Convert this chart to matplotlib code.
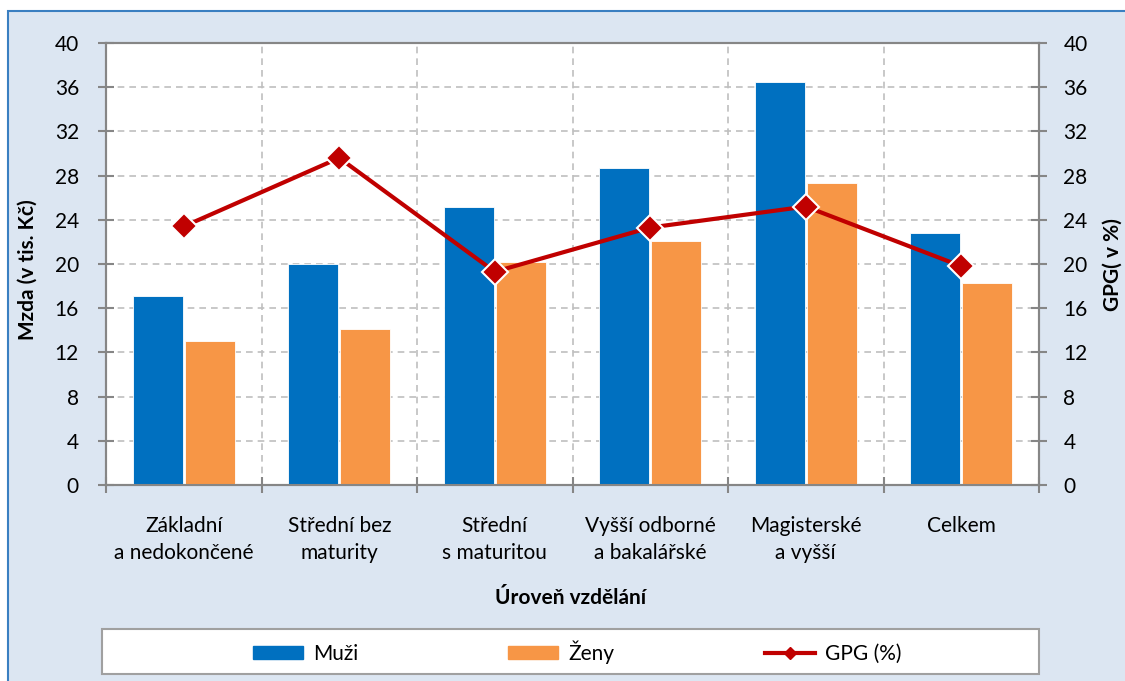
import matplotlib.pyplot as plt
from matplotlib.patches import Rectangle
from matplotlib.lines import Line2D
import numpy as np

plt.rcParams["font.family"] = ["Lato", "DejaVu Sans"]

categories = [
    "Základní\na nedokončené",
    "Střední bez\nmaturity",
    "Střední\ns maturitou",
    "Vyšší odborné\na bakalářské",
    "Magisterské\na vyšší",
    "Celkem",
]
muzi = [17.1, 20.0, 25.2, 28.7, 36.5, 22.8]
zeny = [13.0, 14.1, 20.2, 22.1, 27.3, 18.3]
gpg = [23.4, 29.6, 19.3, 23.3, 25.2, 19.8]
yticks = list(range(0, 41, 4))

BLUE = "#0070C0"
ORANGE = "#F79646"
RED = "#C00000"
GRAY = "#868686"
GRID = "#BFBFBF"
BG = "#DCE6F2"

W, H = 1125, 681
fig = plt.figure(figsize=(W / 100, H / 100), dpi=100, facecolor="white")

# light blue panel with blue frame
fig.patches.append(Rectangle((8 / W, -0.05), 1.2, 1 - 11 / H + 0.05,
                             transform=fig.transFigure, facecolor=BG,
                             edgecolor="#3A7FC1", linewidth=1.5, zorder=-5))

ax = fig.add_axes([106 / W, 1 - 485 / H, (1039 - 106) / W, (485 - 43) / H])
ax.set_facecolor("white")
x = np.arange(len(categories))
w = 0.32
ax.bar(x - 0.167, muzi, w, color=BLUE, edgecolor="white", linewidth=0.6,
       zorder=3, label="Muži")
ax.bar(x + 0.167, zeny, w, color=ORANGE, edgecolor="white", linewidth=0.6,
       zorder=3, label="Ženy")

ax.set_xlim(-0.5, len(categories) - 0.5)
ax.set_ylim(0, 40)
ax.set_yticks(yticks)
ax.set_xticks(x)
ax.set_xticklabels(categories, linespacing=1.45)
ax.set_xticks(np.arange(-0.5, len(categories)), minor=True)
ax.tick_params(axis="x", which="major", length=0, pad=22, labelsize=15)
ax.tick_params(axis="x", which="minor", direction="inout", length=11,
               width=1.5, color=GRAY)
ax.tick_params(axis="y", direction="inout", length=11, width=1.5, color=GRAY,
               pad=14, labelsize=15)
ax.grid(axis="y", color=GRID, linestyle=(0, (4, 3)), linewidth=1.2, zorder=1)
ax.grid(axis="x", which="minor", color=GRID, linestyle=(0, (4, 3)),
        linewidth=1.2, zorder=1)
for s in ax.spines.values():
    s.set_color(GRAY)
    s.set_linewidth(1.5)

ax2 = ax.twinx()
ax2.plot(x, gpg, color=RED, linewidth=3, marker="D", markersize=13,
         markeredgecolor="white", markeredgewidth=1.5, zorder=5)
ax2.set_ylim(0, 40)
ax2.set_yticks(yticks)
ax2.tick_params(axis="y", direction="inout", length=11, width=1.5, color=GRAY,
                pad=12, labelsize=15)
for s in ax2.spines.values():
    s.set_color(GRAY)
    s.set_linewidth(1.5)

# axis titles
fig.text(28 / W, 1 - 270 / H, "Mzda (v tis. Kč)", rotation=90, ha="center",
         va="center", fontsize=15, fontweight="bold")
fig.text(571 / W, 1 - 598 / H, "Úroveň vzdělání", ha="center", va="center",
         fontsize=15, fontweight="bold")
fig.text(1103 / W, 1 - 265 / H, "GPG( v %)", rotation=90, ha="left",
         va="center", fontsize=15, fontweight="bold")

# legend box
fig.patches.append(Rectangle((102 / W, 1 - 674 / H), (1039 - 102) / W, 45 / H,
                             transform=fig.transFigure, facecolor="white",
                             edgecolor="#A0A0A0", linewidth=1.5, zorder=1))
handles = [
    Rectangle((0, 0), 1, 1, color=BLUE),
    Rectangle((0, 0), 1, 1, color=ORANGE),
    Line2D([], [], color=RED, linewidth=3, marker="D", markersize=6),
]
fig.legend(handles, ["Muži", "Ženy", "GPG (%)"], loc="center",
           bbox_to_anchor=(577 / W, 1 - 652 / H), ncol=3, frameon=False,
           fontsize=15, handlelength=2.4, handleheight=0.6, handletextpad=0.5,
           columnspacing=7.2)

fig.savefig("out.png", dpi=100, facecolor="white")
